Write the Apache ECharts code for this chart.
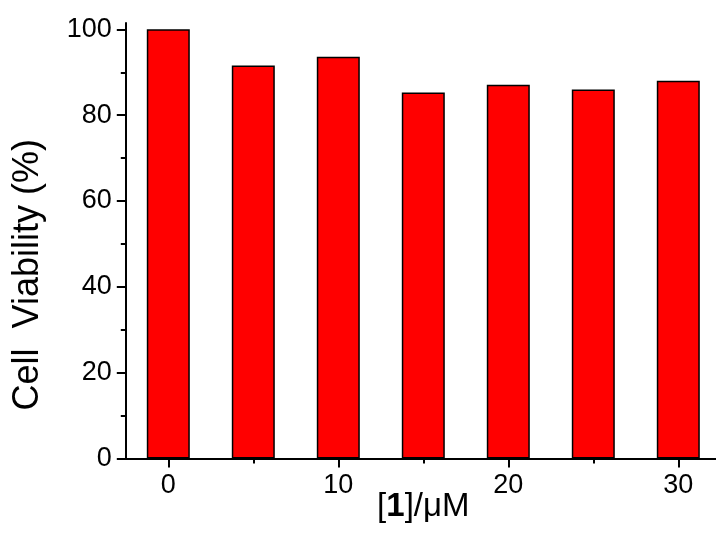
<!DOCTYPE html>
<html>
<head>
<meta charset="utf-8">
<script src="https://cdn.jsdelivr.net/npm/echarts@6/dist/echarts.min.js"></script>
<style>
  html, body { margin: 0; padding: 0; background: #fff; }
  #chart { width: 716px; height: 534px; }
</style>
</head>
<body>
<div id="chart"></div>
<script>
// Concentrations of compound 1 (µM) and the measured cell viability (%)
const concentrations = [0, 5, 10, 15, 20, 25, 30];
const viability = [100, 91.6, 93.6, 85.3, 87.1, 86.0, 88.0];

// Labelled (major) and unlabelled (minor) tick positions
const xTicks = [0, 10, 20, 30];
const xMinorTicks = [5, 15, 25];
const yTicks = [0, 20, 40, 60, 80, 100];

const FONT = '"Liberation Sans", Arial, sans-serif';
const X_MIN = -2.5, X_MAX = 32.5;

const barData = concentrations.map((c, i) => [c, viability[i]]);

const chart = echarts.init(document.getElementById('chart'), null, { renderer: 'canvas' });

chart.setOption({
  backgroundColor: '#ffffff',
  animation: false,
  grid: {
    left: 125.8, right: -4.8, top: 22.9, bottom: 75.5,
    containLabel: false,
    outerBoundsMode: 'none'
  },
  xAxis: [{
    type: 'value',
    position: 'bottom',
    min: X_MIN,
    max: X_MAX,
    name: '{n|[}{b|1}{n|]/\u03bcM}',
    nameLocation: 'middle',
    nameGap: 32,
    nameMoveOverlap: false,
    nameTextStyle: {
      rich: {
        n: { fontFamily: FONT, fontSize: 33, color: '#000' },
        b: { fontFamily: FONT, fontSize: 33, fontWeight: 'bold', color: '#000' }
      }
    },
    axisLine: { show: true, onZero: false, lineStyle: { color: '#000', width: 2 } },
    axisTick: { show: true, inside: false, length: 9, lineStyle: { color: '#000', width: 2 }, customValues: xTicks },
    axisLabel: { show: true, margin: 14, fontFamily: FONT, fontSize: 27, color: '#000', customValues: xTicks },
    splitLine: { show: false }
  }, {
    // short unlabelled ticks halfway between the labelled ones
    type: 'value',
    position: 'bottom',
    offset: 0,
    min: X_MIN,
    max: X_MAX,
    axisLine: { show: false, onZero: false },
    axisTick: { show: true, inside: false, length: 5, lineStyle: { color: '#000', width: 2 }, customValues: xMinorTicks },
    axisLabel: { show: false },
    splitLine: { show: false }
  }],
  yAxis: {
    type: 'value',
    min: 0,
    max: 101.5,
    interval: 20,
    name: 'Cell  Viability (%)',
    nameLocation: 'middle',
    nameRotate: 90,
    nameGap: 80,
    nameMoveOverlap: false,
    nameTextStyle: { fontFamily: FONT, fontSize: 36, color: '#000', padding: [0, 68, 0, 0] },
    axisLine: { show: true, onZero: false, lineStyle: { color: '#000', width: 2 } },
    axisTick: { show: true, inside: false, length: 9, lineStyle: { color: '#000', width: 2 }, customValues: yTicks },
    minorTick: { show: true, splitNumber: 2, length: 5, lineStyle: { color: '#000', width: 2 } },
    axisLabel: { show: true, margin: 14, fontFamily: FONT, fontSize: 27, color: '#000', customValues: yTicks },
    splitLine: { show: false },
    minorSplitLine: { show: false }
  },
  series: [{
    type: 'bar',
    xAxisIndex: 0,
    data: barData,
    barWidth: 43,
    itemStyle: { color: '#ff0000', borderColor: '#000', borderWidth: 1.5 },
    emphasis: { disabled: true }
  }]
});
</script>
</body>
</html>
